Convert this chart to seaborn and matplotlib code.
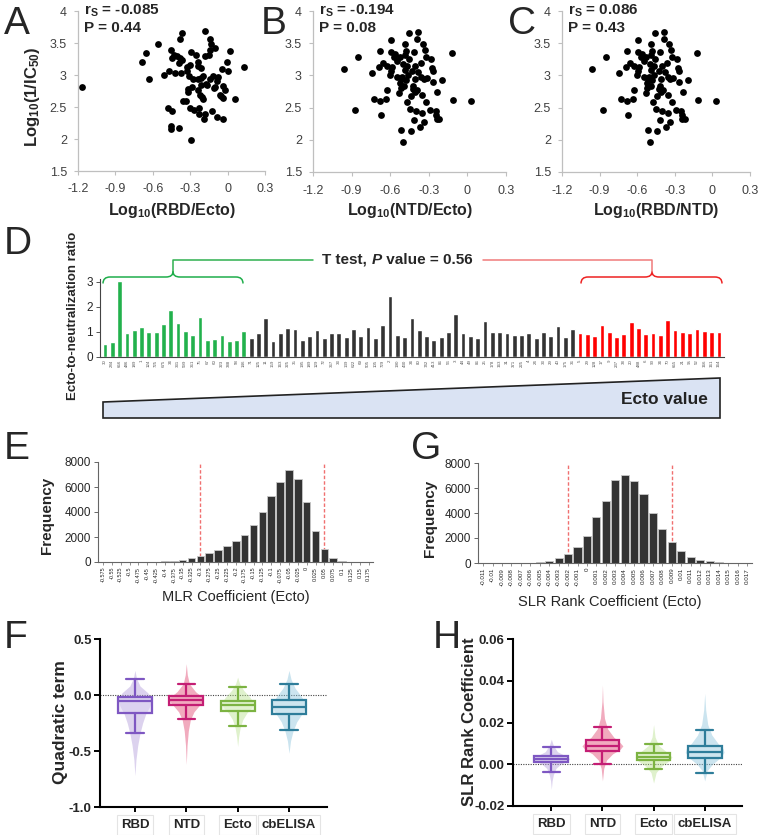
import matplotlib
matplotlib.use('Agg')
import matplotlib.pyplot as plt
import numpy as np
import seaborn as sns
from matplotlib.path import Path
from matplotlib.patches import PathPatch, Polygon

# ---------------- data ----------------
# A: log10(RBD/Ecto) vs log10(1/IC50)
a_x = [-1.17, -0.686, -0.655, -0.634, -0.561, -0.508, -0.469, -0.477, -0.445, -0.456, -0.453,
       -0.456, -0.432, -0.443, -0.419, -0.409, -0.393, -0.38, -0.39, -0.385, -0.364, -0.372,
       -0.369, -0.354, -0.335, -0.325, -0.327, -0.32, -0.314, -0.309, -0.299, -0.301, -0.293,
       -0.291, -0.288, -0.275, -0.267, -0.257, -0.241, -0.241, -0.236, -0.236, -0.228, -0.228,
       -0.223, -0.217, -0.212, -0.21, -0.207, -0.199, -0.199, -0.191, -0.183, -0.183, -0.178,
       -0.176, -0.165, -0.152, -0.144, -0.139, -0.139, -0.131, -0.126, -0.118, -0.11, -0.102,
       -0.1, -0.089, -0.086, -0.076, -0.063, -0.052, -0.045, -0.037, -0.037, -0.034, -0.024,
       -0.005, 0.003, 0.021, 0.058, 0.134]
a_y = [2.81, 3.21, 3.35, 2.94, 3.49, 3.0, 3.07, 2.48, 2.44, 2.21, 2.16,
       3.39, 3.32, 3.26, 3.03, 3.29, 3.18, 3.26, 2.17, 3.57, 3.66, 3.03,
       3.24, 2.6, 2.6, 3.12, 3.06, 2.78, 2.73, 2.99, 3.15, 2.48, 3.36,
       1.98, 2.82, 2.94, 2.46, 3.32, 3.14, 3.2, 2.76, 2.94, 2.49, 2.39,
       2.68, 3.11, 2.85, 2.95, 2.65, 2.98, 2.62, 2.32, 3.3, 3.69, 2.39,
       2.86, 2.85, 3.32, 2.93, 3.39, 3.56, 3.49, 2.44, 2.99, 2.8, 3.42,
       2.81, 2.34, 2.91, 2.97, 2.69, 2.67, 3.09, 2.83, 2.32, 2.64, 2.77,
       3.2, 3.07, 3.37, 2.63, 3.13]

# B: log10(NTD/Ecto) vs log10(1/IC50)
b_x = [-0.958, -0.875, -0.852, -0.745, -0.727, -0.688, -0.681, -0.681, -0.675, -0.655, -0.636,
       -0.623, -0.623, -0.603, -0.597, -0.597, -0.597, -0.584, -0.571, -0.564, -0.545, -0.545,
       -0.532, -0.527, -0.525, -0.519, -0.514, -0.514, -0.506, -0.501, -0.499, -0.493, -0.488,
       -0.488, -0.486, -0.481, -0.478, -0.473, -0.468, -0.462, -0.457, -0.455, -0.449, -0.442,
       -0.442, -0.429, -0.423, -0.421, -0.418, -0.416, -0.41, -0.408, -0.405, -0.4, -0.395,
       -0.39, -0.384, -0.382, -0.369, -0.364, -0.358, -0.356, -0.351, -0.348, -0.338, -0.335,
       -0.33, -0.325, -0.322, -0.317, -0.291, -0.281, -0.273, -0.27, -0.268, -0.247, -0.242,
       -0.239, -0.234, -0.221, -0.195, -0.122, -0.112, 0.026]
b_y = [3.1, 2.46, 3.29, 3.04, 2.63, 3.13, 3.38, 2.61, 2.38, 3.2, 2.64,
       2.78, 3.15, 3.01, 3.55, 3.07, 3.37, 3.13, 3.29, 3.34, 2.98, 3.23,
       2.73, 3.29, 2.88, 2.81, 2.94, 2.15, 2.97, 3.18, 1.97, 2.83, 3.31,
       3.08, 3.48, 3.38, 2.93, 2.59, 3.15, 3.01, 3.25, 3.66, 2.48, 2.68,
       2.14, 3.07, 2.79, 2.84, 2.31, 3.36, 2.95, 2.74, 3.15, 2.45, 2.77,
       3.56, 3.68, 3.05, 2.2, 3.2, 2.98, 2.69, 2.41, 3.48, 2.27, 2.94,
       3.4, 2.59, 3.29, 2.96, 2.46, 3.25, 3.12, 3.07, 2.89, 2.44, 2.38,
       2.32, 2.74, 2.32, 2.93, 3.35, 2.62, 2.6]

# C: log10(RBD/NTD) -- the cloud in the picture is the same as in B
c_x = list(b_x)
c_y = list(b_y)

# D: ecto-to-neutralization ratio, sorted by Ecto value
d_labels = ['30', '284', '656', '486', '189', '1', '124', '725', '675', '34', '331', '599', '361',
            '75', '67', '60', '323', '388', '58', '146',
            '71', '125', '11', '159', '163', '325', '35', '195', '189', '129', '72', '367', '33',
            '139', '622', '69', '505', '105', '729', '2', '190', '430', '34', '80', '742', '413',
            '86', '56', '3', '44', '49', '86', '25', '178', '163', '31', '371', '225', '4', '24',
            '33', '29', '40', '175', '36',
            '5', '29', '128', '17', '9', '237', '38', '20', '488', '6', '90', '34', '70', '655',
            '21', '95', '52', '166', '161', '164']
d_ratio = [0.52, 0.57, 3.02, 0.95, 1.05, 1.2, 0.99, 0.99, 1.3, 1.88, 1.35, 1.02, 0.88,
           1.58, 0.68, 0.69, 0.88, 0.62, 0.67, 1.03,
           0.76, 0.93, 1.53, 0.61, 0.95, 1.15, 1.11, 0.65, 0.83, 1.07, 0.73, 0.93, 0.93,
           0.79, 1.11, 0.83, 1.19, 0.75, 1.25, 2.44, 0.85, 0.8, 1.53, 1.07, 0.83, 0.68,
           0.8, 0.99, 1.69, 0.93, 0.83, 0.73, 1.41, 0.97, 0.97, 0.95, 0.87, 0.87, 0.93, 0.75,
           0.97, 0.83, 1.23, 0.8, 1.12,
           0.93, 0.91, 0.81, 1.25, 0.99, 0.77, 0.92, 1.39, 1.16, 0.92, 0.95, 0.87, 1.47, 1.07,
           0.99, 0.96, 1.12, 1.04, 1.0, 1.0]
d_group = ['low'] * 20 + ['mid'] * 45 + ['high'] * 20

# E: MLR coefficient (Ecto) histogram
e_bins = ['-0.575', '-0.55', '-0.525', '-0.5', '-0.475', '-0.45', '-0.425', '-0.4', '-0.375',
          '-0.35', '-0.325', '-0.3', '-0.275', '-0.25', '-0.225', '-0.2', '-0.175', '-0.15',
          '-0.125', '-0.1', '-0.075', '-0.05', '-0.025', '0', '0.025', '0.05', '0.075', '0.1',
          '0.125', '0.15', '0.175']
e_counts = [0, 0, 0, 0, 0, 5, 20, 50, 90, 150, 300, 450, 690, 960, 1280, 1710, 2200, 3000,
            4020, 5250, 6410, 7350, 6620, 4830, 2470, 1050, 350, 100, 30, 10, 0]
e_cutoffs = ['-0.3', '0.05']

# G: SLR rank coefficient (Ecto) histogram
g_bins = ['-0.011', '-0.01', '-0.009', '-0.008', '-0.007', '-0.006', '-0.005', '-0.004',
          '-0.003', '-0.002', '-0.001', '0', '0.001', '0.002', '0.003', '0.004', '0.005',
          '0.006', '0.007', '0.008', '0.009', '0.01', '0.011', '0.012', '0.013', '0.014',
          '0.015', '0.016', '0.017']
g_counts = [0, 0, 0, 0, 0, 20, 90, 180, 400, 750, 1250, 2200, 3650, 5000, 6650, 7050, 6550,
            5550, 4000, 2700, 1650, 950, 500, 280, 130, 60, 20, 5, 0]
g_cutoffs = ['-0.002', '0.009']

# F / H: quadratic term and SLR rank coefficient
groups = ['RBD', 'NTD', 'Ecto', 'cbELISA']
f_whishi = [0.145, 0.10, 0.075, 0.097]
f_q3 = [-0.014, -0.008, -0.05, -0.044]
f_med = [-0.053, -0.044, -0.092, -0.107]
f_q1 = [-0.164, -0.092, -0.14, -0.17]
f_whislo = [-0.343, -0.214, -0.277, -0.31]
f_vio_y = [[0.22, 0.15, 0.08, 0.02, -0.04, -0.10, -0.17, -0.25, -0.34, -0.45, -0.58, -0.72],
           [0.28, 0.18, 0.10, 0.03, -0.02, -0.05, -0.09, -0.15, -0.22, -0.32, -0.45, -0.62],
           [0.16, 0.10, 0.04, -0.02, -0.07, -0.11, -0.16, -0.22, -0.29, -0.37, -0.46],
           [0.22, 0.14, 0.06, 0.0, -0.06, -0.11, -0.17, -0.24, -0.32, -0.41, -0.52]]
f_vio_w = [[0, 0.03, 0.1, 0.25, 0.33, 0.29, 0.21, 0.15, 0.1, 0.055, 0.02, 0],
           [0, 0.02, 0.06, 0.18, 0.31, 0.33, 0.26, 0.15, 0.08, 0.04, 0.015, 0],
           [0, 0.04, 0.12, 0.24, 0.31, 0.28, 0.18, 0.1, 0.05, 0.02, 0],
           [0, 0.04, 0.12, 0.22, 0.31, 0.33, 0.25, 0.15, 0.08, 0.03, 0]]

h_whishi = [0.0081, 0.018, 0.0097, 0.0166]
h_q3 = [0.004, 0.0115, 0.0053, 0.0088]
h_med = [0.0027, 0.0088, 0.0035, 0.0057]
h_q1 = [0.0013, 0.0064, 0.002, 0.003]
h_whislo = [-0.0035, 0.0002, -0.0024, -0.004]
h_vio_y = [[0.012, 0.009, 0.006, 0.004, 0.0027, 0.0015, 0.0, -0.002, -0.005, -0.008, -0.012],
           [0.038, 0.03, 0.022, 0.017, 0.013, 0.0105, 0.0088, 0.007, 0.005, 0.002, -0.002, -0.008],
           [0.019, 0.013, 0.009, 0.006, 0.0035, 0.0015, -0.001, -0.004, -0.009],
           [0.034, 0.026, 0.019, 0.014, 0.010, 0.0075, 0.0057, 0.003, 0.0, -0.003, -0.008]]
h_vio_w = [[0, 0.04, 0.12, 0.28, 0.36, 0.3, 0.18, 0.09, 0.04, 0.015, 0],
           [0, 0.01, 0.04, 0.1, 0.22, 0.34, 0.4, 0.34, 0.2, 0.08, 0.025, 0],
           [0, 0.03, 0.1, 0.25, 0.36, 0.3, 0.15, 0.05, 0],
           [0, 0.02, 0.06, 0.14, 0.26, 0.36, 0.38, 0.3, 0.15, 0.05, 0]]

box_edge = ['#7e57c2', '#c41e74', '#7cb342', '#2e7d9a']
box_face = ['#ddd2f2', '#f2a9c0', '#e4f3d2', '#cfe6f0']
vio_col = ['#b39ddb', '#e0456f', '#b8e08e', '#8cc4dc']

# ---------------- figure ----------------
sns.set_theme(style='white')
plt.rcParams['font.family'] = ['Liberation Sans', 'DejaVu Sans']
plt.rcParams['mathtext.fontset'] = 'custom'
plt.rcParams['mathtext.rm'] = 'Liberation Sans:bold'
plt.rcParams['mathtext.bf'] = 'Liberation Sans:bold'
plt.rcParams['mathtext.default'] = 'bf'

W, H = 760, 835
fig = plt.figure(figsize=(7.6, 8.35), dpi=100)


def rect(l, t, r, b):
    return [l / W, 1 - b / H, (r - l) / W, (b - t) / H]


def ftext(x, y, s, **kw):
    fig.text(x / W, 1 - y / H, s, **kw)


# ----- A, B, C scatter panels -----
def scatter_panel(box, xs, ys, rs, p):
    ax = fig.add_axes(rect(*box))
    sns.scatterplot(x=xs, y=ys, ax=ax, color='black', s=24, linewidth=0)
    ax.set_xlim(-1.2, 0.3)
    ax.set_ylim(1.5, 4)
    ax.set_xticks(np.arange(-1.2, 0.31, 0.3))
    ax.set_xticklabels(['-1.2', '-0.9', '-0.6', '-0.3', '0', '0.3'])
    ax.set_yticks(np.arange(1.5, 4.01, 0.5))
    ax.set_yticklabels(['1.5', '2', '2.5', '3', '3.5', '4'])
    for s in ['top', 'right']:
        ax.spines[s].set_visible(False)
    for s in ['left', 'bottom']:
        ax.spines[s].set_color('#bfbfbf')
        ax.spines[s].set_linewidth(0.9)
    ax.tick_params(length=3, width=0.8, color='#bfbfbf', labelcolor='#404040',
                   labelsize=9, left=True, bottom=True)
    ax.tick_params(axis='x', pad=6)
    ax.tick_params(axis='y', pad=5)
    ax.text(0.03, 1.0, r'r$_S$ = ' + rs, transform=ax.transAxes, fontsize=11,
            fontweight='bold', va='center', ha='left')
    ax.text(0.03, 0.895, 'P = ' + p, transform=ax.transAxes, fontsize=11,
            fontweight='bold', va='center', ha='left')
    return ax


scatter_panel((78, 11, 265, 171), a_x, a_y, '-0.085', '0.44')
scatter_panel((313, 11, 506, 172), b_x, b_y, '-0.194', '0.08')
scatter_panel((562, 11, 750, 172), c_x, c_y, '0.086', '0.43')

ftext(172, 211, r'Log$_{10}$(RBD/Ecto)', fontsize=11.5, fontweight='bold', ha='center', va='center')
ftext(410, 211, r'Log$_{10}$(NTD/Ecto)', fontsize=11.5, fontweight='bold', ha='center', va='center')
ftext(656, 211, r'Log$_{10}$(RBD/NTD)', fontsize=11.5, fontweight='bold', ha='center', va='center')
ftext(33, 97, r'Log$_{10}$(1/IC$_{50}$)', fontsize=12, fontweight='bold', ha='center',
      va='center', rotation=90)

# ----- D bar panel -----
ax_d = fig.add_axes(rect(100, 278.5, 724, 356.7))
sns.barplot(x=list(range(len(d_ratio))), y=d_ratio, hue=d_group, dodge=False, legend=False,
            palette={'low': '#22b14c', 'mid': '#333333', 'high': '#ff0000'},
            width=0.65, saturation=1, ax=ax_d)
ax_d.set_xlim(-0.68, len(d_ratio) - 0.3)
ax_d.set_ylim(0, 3.13)
ax_d.set_yticks([0, 1, 2, 3])
ax_d.set_xticks(range(len(d_labels)))
ax_d.set_xticklabels(d_labels, rotation=90, fontsize=3.2, color='#555555')
ax_d.tick_params(axis='y', labelsize=8.5, length=3, width=0.7, pad=2, left=True, color='#555555')
ax_d.tick_params(axis='x', length=0, pad=2)
ax_d.set_xlabel('')
ax_d.set_ylabel('')
for s in ['top', 'right']:
    ax_d.spines[s].set_visible(False)
for s in ['left', 'bottom']:
    ax_d.spines[s].set_color('#444444')
    ax_d.spines[s].set_linewidth(0.8)
ftext(73, 316, 'Ecto-to-neutralization ratio', fontsize=9.5, fontweight='bold', rotation=90,
      ha='center', va='center')

# overlay in pixel coordinates for braces and the wedge
ov = fig.add_axes([0, 0, 1, 1])
ov.set_xlim(0, W)
ov.set_ylim(H, 0)
ov.axis('off')


def brace(x0, x1, xm, color, ye=283.5, yb=277, yc=271.5, r=7):
    verts = [(x0, ye), (x0, yb), (x0 + r, yb), (xm - r, yb), (xm, yb), (xm, yc),
             (xm, yc), (xm, yb), (xm + r, yb), (x1 - r, yb), (x1, yb), (x1, ye)]
    codes = [Path.MOVETO, Path.CURVE3, Path.CURVE3, Path.LINETO, Path.CURVE3, Path.CURVE3,
             Path.MOVETO, Path.CURVE3, Path.CURVE3, Path.LINETO, Path.CURVE3, Path.CURVE3]
    ov.add_patch(PathPatch(Path(verts, codes), fill=False, edgecolor=color, lw=1.1))


brace(103, 243, 173, '#1fae4b')
ov.plot([173, 173, 313], [271.5, 259.5, 259.5], color='#2fb04f', lw=1.1)
brace(581, 722, 652, '#ee2222')
ov.plot([483, 652, 652], [259.5, 259.5, 271.5], color='#f07a7a', lw=1.1)
ftext(322, 260, 'T test, ', fontsize=11, fontweight='bold', va='center', ha='left')
ftext(371.5, 260, 'P', fontsize=11, fontweight='bold', style='italic', va='center', ha='left')
ftext(382, 260, ' value = 0.56', fontsize=11, fontweight='bold', va='center', ha='left')

ov.add_patch(Polygon([(103, 402), (720, 378), (720, 418), (103, 418)], closed=True,
                     facecolor='#dae3f3', edgecolor='#222222', lw=1.2))
ftext(664, 400, 'Ecto value', fontsize=12.5, fontweight='bold', ha='center', va='center',
      color='#222222')


# ----- E, G histograms -----
def hist_panel(box, bins, counts, cutoffs, xlim, lab_fs):
    ax = fig.add_axes(rect(*box))
    sns.barplot(x=bins, y=counts, color='#333333', edgecolor='#c8c8c8', linewidth=0.6,
                width=0.86, saturation=1, ax=ax)
    for c in cutoffs:
        ax.vlines(bins.index(c), 0, 8000, color='#f07070', lw=1.0,
                  linestyles=(0, (2.5, 1.5)), zorder=0.5)
    ax.set_xlim(*xlim)
    ax.set_ylim(0, 8000)
    ax.set_yticks([0, 2000, 4000, 6000, 8000])
    ax.set_xticks(range(len(bins)))
    ax.set_xticklabels(bins, rotation=90, fontsize=lab_fs)
    ax.tick_params(axis='y', labelsize=8.5, length=3, width=0.7, pad=2, left=True, color='#666666')
    ax.tick_params(axis='x', length=2, width=0.5, pad=1.5, bottom=True, color='#666666')
    ax.set_xlabel('')
    ax.set_ylabel('')
    for s in ['top', 'right']:
        ax.spines[s].set_visible(False)
    for s in ['left', 'bottom']:
        ax.spines[s].set_color('#666666')
        ax.spines[s].set_linewidth(0.8)
    return ax


hist_panel((98, 462, 373, 562), e_bins, e_counts, e_cutoffs, (-0.56, 30.49), 4)
hist_panel((478, 463, 752, 563), g_bins, g_counts, g_cutoffs, (-0.55, 28.5), 4.5)
ftext(47, 515, 'Frequency', fontsize=11, fontweight='bold', rotation=90, ha='center', va='center')
ftext(430, 518, 'Frequency', fontsize=11, fontweight='bold', rotation=90, ha='center', va='center')
ftext(236, 597, 'MLR Coefficient (Ecto)', fontsize=10.5, ha='center', va='center')
ftext(610, 602, 'SLR Rank Coefficient (Ecto)', fontsize=10.5, ha='center', va='center')


# ----- F, H violin + box panels -----
def violin_panel(box, whishi, q3, med, q1, whislo, vio_y, vio_w, ylim, yticks, ylabs, xlim):
    ax = fig.add_axes(rect(*box))
    pos = np.arange(len(groups))
    for i in range(len(groups)):
        vy = np.array(vio_y[i])
        vw = np.array(vio_w[i])
        ax.fill_betweenx(vy, pos[i] - vw, pos[i] + vw, color=vio_col[i], alpha=0.45, lw=0, zorder=1)
    stats = [dict(med=med[i], q1=q1[i], q3=q3[i], whislo=whislo[i], whishi=whishi[i], fliers=[])
             for i in range(len(groups))]
    art = ax.bxp(stats, positions=pos, widths=0.66, capwidths=0.34, patch_artist=True,
                 showfliers=False, manage_ticks=False)
    for i in range(len(groups)):
        art['boxes'][i].set_facecolor(matplotlib.colors.to_rgba(box_face[i], 0.55))
        art['boxes'][i].set_edgecolor(box_edge[i])
        art['boxes'][i].set_linewidth(1.6)
        art['medians'][i].set_color(box_edge[i])
        art['medians'][i].set_linewidth(1.6)
        for k in (2 * i, 2 * i + 1):
            art['whiskers'][k].set_color(box_edge[i])
            art['whiskers'][k].set_linewidth(1.6)
            art['caps'][k].set_color(box_edge[i])
            art['caps'][k].set_linewidth(1.6)
    ax.axhline(0, color='#444444', lw=0.8, ls=(0, (1, 1.2)), zorder=0.5)
    ax.set_xlim(*xlim)
    ax.set_ylim(*ylim)
    ax.set_yticks(yticks)
    ax.set_yticklabels(ylabs)
    ax.set_xticks(pos)
    ax.set_xticklabels(groups)
    for lab in ax.get_yticklabels() + ax.get_xticklabels():
        lab.set_fontweight('bold')
    for lab in ax.get_xticklabels():
        lab.set_bbox(dict(facecolor='white', edgecolor='#e4e4e4', lw=0.8,
                          boxstyle='square,pad=0.3'))
    ax.tick_params(axis='y', labelsize=9.5, length=4, width=1.4, pad=2, left=True, color='black')
    ax.tick_params(axis='x', labelsize=9.5, length=3.5, width=1.4, pad=5, bottom=True, color='black')
    for s in ['top', 'right']:
        ax.spines[s].set_visible(False)
    for s in ['left', 'bottom']:
        ax.spines[s].set_color('black')
        ax.spines[s].set_linewidth(1.5)
    return ax


violin_panel((100, 639, 327, 807), f_whishi, f_q3, f_med, f_q1, f_whislo, f_vio_y, f_vio_w,
             (-1.0, 0.5), [-1.0, -0.5, 0.0, 0.5], ['-1.0', '-0.5', '0.0', '0.5'], (-0.68, 3.74))
violin_panel((513, 639, 742, 806), h_whishi, h_q3, h_med, h_q1, h_whislo, h_vio_y, h_vio_w,
             (-0.02, 0.06), [-0.02, 0.0, 0.02, 0.04, 0.06],
             ['-0.02', '0.00', '0.02', '0.04', '0.06'], (-0.75, 3.73))
ftext(60, 722, 'Quadratic term', fontsize=12.5, fontweight='bold', rotation=90, ha='center', va='center')
ftext(470, 722, 'SLR Rank Coefficient', fontsize=12, fontweight='bold', rotation=90, ha='center',
      va='center')

# panel letters
for letter, x, y in [('A', 4, 24), ('B', 261, 24), ('C', 508, 24), ('D', 4, 244),
                     ('E', 4, 449), ('G', 411, 449), ('F', 4, 638), ('H', 433, 638)]:
    ftext(x, y, letter, fontsize=28, ha='left', va='center')

fig.savefig('out.png', dpi=100)
